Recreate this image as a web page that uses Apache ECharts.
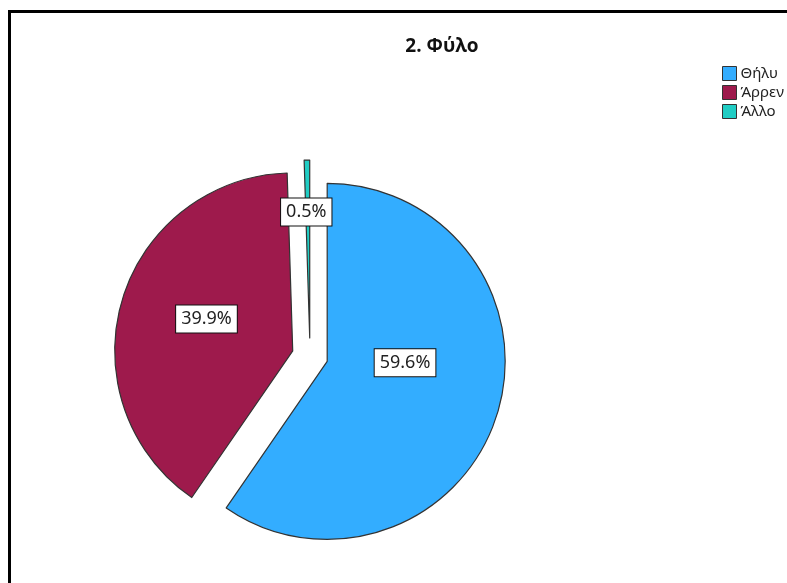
<!DOCTYPE html>
<html>
<head>
<meta charset="utf-8">
<script src="https://cdn.jsdelivr.net/npm/echarts@6/dist/echarts.min.js"></script>
<style>
  html, body { margin: 0; padding: 0; background: #fff; }
  #chart { width: 787px; height: 583px; }
</style>
</head>
<body>
<div id="chart"></div>
<script>
// 数据
var categories = ['Θήλυ', 'Άρρεν', 'Άλλο'];
var percentValues = [59.6, 39.9, 0.5];
var sliceColors = ['#33adff', '#9e1a4c', '#20cdc4'];

var chartTitle = '2. Φύλο';

// label nudges (SPSS places them a bit differently than echarts 'inside')
var labelShift = [[-10, -26], [2, -6], [-2, -34]];

var myChart = echarts.init(document.getElementById('chart'));

var pieData = categories.map(function (name, i) {
    return {
        name: name,
        value: percentValues[i],
        selected: true,
        itemStyle: { color: sliceColors[i] }
    };
});

var option = {
    animation: false,
    title: {
        text: chartTitle,
        left: 437,
        top: 32,
        textAlign: 'center',
        textStyle: {
            fontFamily: 'Open Sans',
            fontSize: 19,
            fontWeight: 'bold',
            color: '#111'
        }
    },
    legend: {
        orient: 'vertical',
        left: 717,
        top: 61,
        itemWidth: 14,
        itemHeight: 14,
        itemGap: 4,
        icon: 'rect',
        selectedMode: false,
        data: categories,
        itemStyle: { borderColor: '#333', borderWidth: 1 },
        textStyle: {
            fontFamily: 'Noto Sans',
            fontSize: 15,
            color: '#222',
            padding: [0, 0, 0, -1]
        }
    },
    graphic: [
        {
            type: 'rect',
            shape: { x: 9.5, y: 11.5, width: 900, height: 700 },
            style: { fill: 'none', stroke: '#000', lineWidth: 3 },
            silent: true
        }
    ],
    series: [
        {
            type: 'pie',
            center: [310, 356],
            radius: 178,
            startAngle: 90,
            clockwise: true,
            selectedMode: 'multiple',
            selectedOffset: 18,
            avoidLabelOverlap: false,
            emphasis: { disabled: true },
            select: {
                itemStyle: { borderColor: '#333', borderWidth: 1.2 }
            },
            itemStyle: { borderColor: '#333', borderWidth: 1.2 },
            label: {
                show: true,
                position: 'inside',
                formatter: function (p) { return p.value.toFixed(1) + '%'; },
                fontFamily: 'Noto Sans',
                fontSize: 18,
                color: '#222',
                backgroundColor: '#fff',
                borderColor: '#111',
                borderWidth: 1,
                padding: [5, 5, 4, 5]
            },
            labelLine: { show: false },
            labelLayout: function (params) {
                var s = labelShift[params.dataIndex];
                return { dx: s[0], dy: s[1] };
            },
            data: pieData
        }
    ]
};

myChart.setOption(option);
</script>
</body>
</html>
